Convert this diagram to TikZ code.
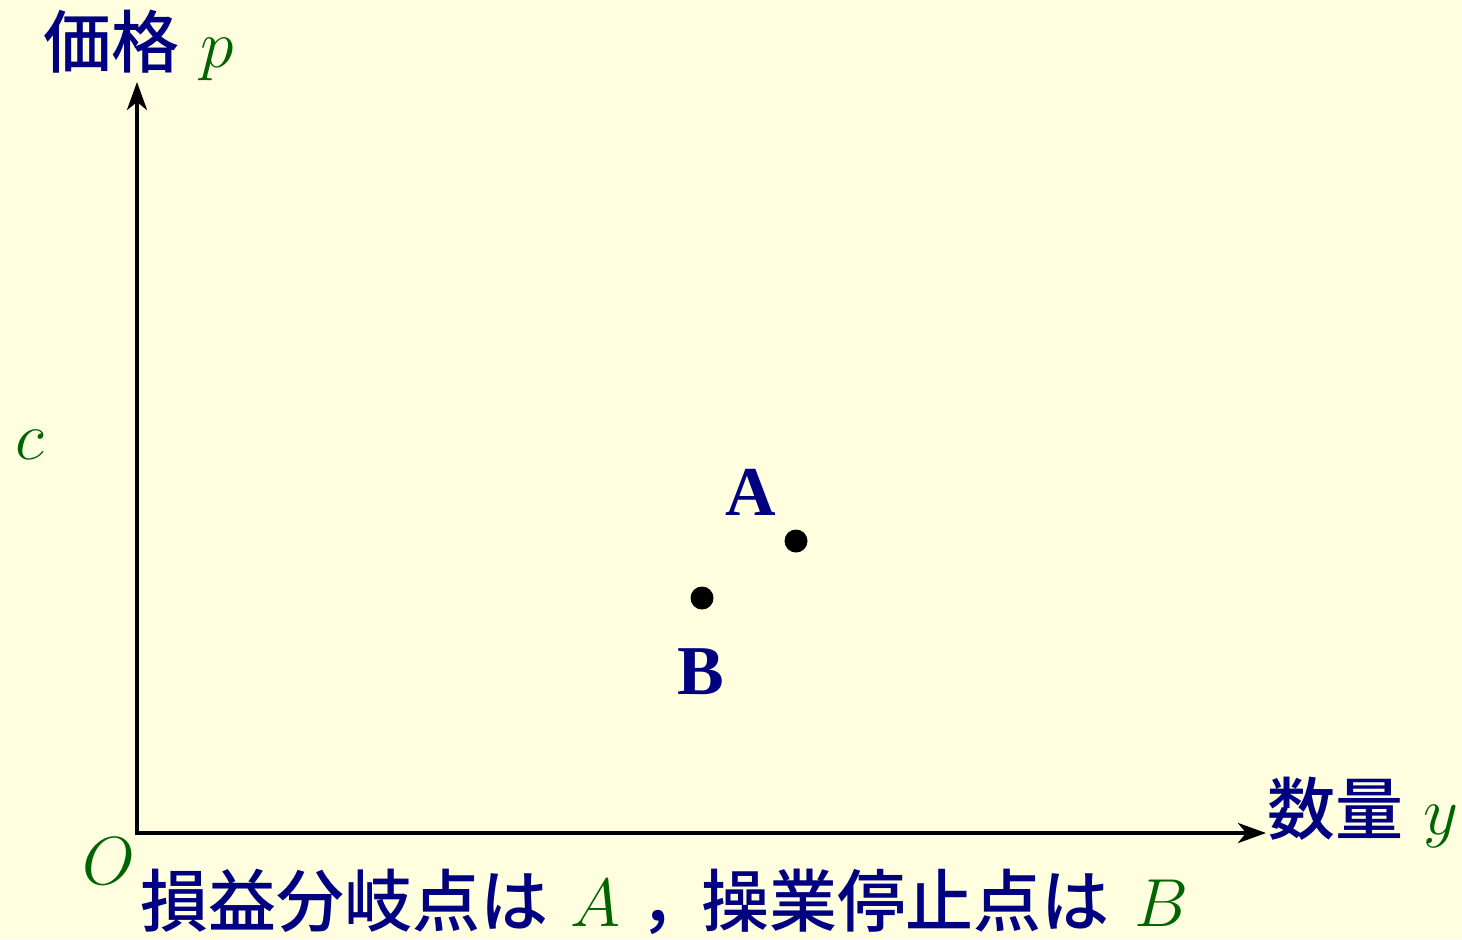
\RequirePackage{fix-cm}
\documentclass[tikz,border=0pt]{standalone}
\usepackage{fontspec}
\newfontfamily\cjk{Noto Sans CJK JP}[UprightFont={* Medium}]
\newfontfamily\lserif{Liberation Serif}
\usetikzlibrary{arrows.meta}
\definecolor{bgc}{RGB}{255,255,224}
\definecolor{navyc}{RGB}{0,0,128}
\definecolor{dgreen}{RGB}{0,100,0}
\tikzset{
  lbl/.style={inner sep=0pt, anchor=base, font=\fontsize{34}{41}\selectfont},
  ptlbl/.style={inner sep=0pt, anchor=base, text=navyc, font=\fontsize{35}{41}\lserif\bfseries},
  axisline/.style={line width=2pt},
  dotc/.style={circle, fill=black, inner sep=0pt, minimum size=11.5pt},
}
\begin{document}
\begin{tikzpicture}[x=0.5pt,y=-0.5pt]
\fill[bgc] (0,0) rectangle (1462,939);
\useasboundingbox (0,0) rectangle (1462,939);
\coordinate (O) at (137,833);
\coordinate (ytip) at (137,82);
\coordinate (xtip) at (1266,833);
\draw[axisline, {Stealth[length=14pt,width=10pt,inset=4pt]}-{Stealth[length=14pt,width=10pt,inset=4pt]}] (ytip) -- (O) -- (xtip);
\node[lbl] (ylab) at (138.5,67) {{\cjk\color{navyc}価格} \textcolor{dgreen}{$p$}};
\node[lbl] (xlab) at (1363,834) {{\cjk\color{navyc}数量} \textcolor{dgreen}{$y$}};
\node[lbl] (clab) at (30,459) {\textcolor{dgreen}{$c$}};
\node[lbl] (olab) at (109,884) {\textcolor{dgreen}{$O$}};
\node[dotc] (A) at (796,541) {};
\node[dotc] (B) at (702,598) {};
\node[ptlbl] (alab) at (751,515) {A};
\node[ptlbl] (blab) at (701,694) {B};
\node[lbl, anchor=base west] (note) at (140,926) {{\cjk\color{navyc}損益分岐点は}\hspace{0.32em}\textcolor{dgreen}{$A$} {\cjk\color{navyc}，\kern-0.1em 操業停止点は}\hspace{0.36em}\textcolor{dgreen}{$B$}};
\end{tikzpicture}
\end{document}
